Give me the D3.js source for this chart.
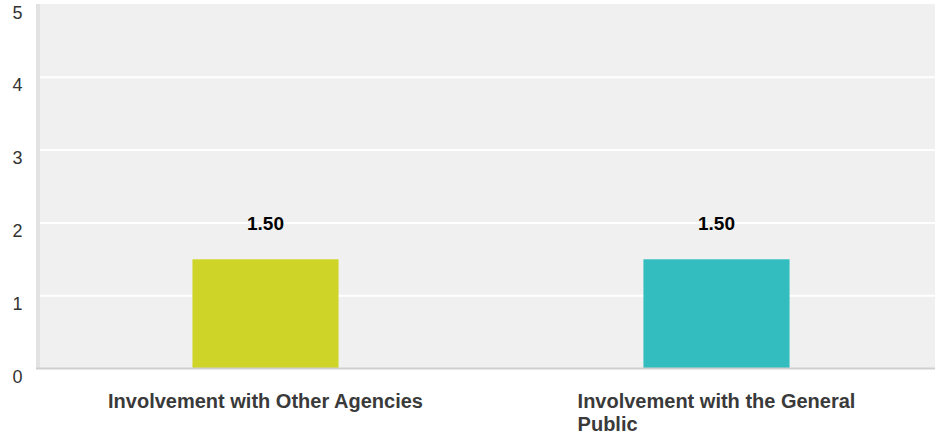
<!DOCTYPE html>
<html>
<head>
<meta charset="utf-8">
<script src="https://cdn.jsdelivr.net/npm/d3@7"></script>
<style>
  html, body { margin: 0; padding: 0; background: #fff; }
  svg { display: block; font-family: "Liberation Sans", Arial, Helvetica, sans-serif; }
</style>
</head>
<body>
<svg id="chart" width="935" height="439"></svg>
<script>
// Average ratings per category
const categories = ["Involvement with Other Agencies", "Involvement with the General Public"];
const values = [1.5, 1.5];
const barColors = ["#cfd428", "#33bdbf"];
const yTicks = [0, 1, 2, 3, 4, 5];

const svg = d3.select("#chart");
const W = 935, H = 439;
const plotLeft = 40, plotRight = 942, plotTop = 4.5, plotBottom = 368.5;

const x = d3.scaleBand().domain(categories).range([plotLeft, plotRight]).paddingInner(0.676).paddingOuter(0.338);
const y = d3.scaleLinear().domain([0, 5]).range([plotBottom, plotTop]);

// plot background
svg.append("rect")
  .attr("x", plotLeft).attr("y", 4)
  .attr("width", W - plotLeft).attr("height", plotBottom - 4)
  .attr("fill", "#f0f0f0");

// left axis strip
svg.append("rect")
  .attr("x", 36).attr("y", 4)
  .attr("width", 4).attr("height", plotBottom - 4)
  .attr("fill", "#e2e2e2");

// horizontal gridlines
svg.append("g").selectAll("line")
  .data(yTicks.filter(d => d > 0 && d < 5))
  .join("line")
  .attr("x1", plotLeft).attr("x2", W)
  .attr("y1", d => y(d)).attr("y2", d => y(d))
  .attr("stroke", "#ffffff").attr("stroke-width", 2);

// y tick labels
svg.append("g").selectAll("text")
  .data(yTicks)
  .join("text")
  .attr("x", 12.5)
  .attr("y", d => y(d) + 14)
  .attr("fill", "#333")
  .attr("font-size", 18)
  .text(d => d);

// bars
svg.append("g").selectAll("rect")
  .data(values)
  .join("rect")
  .attr("x", (d, i) => x(categories[i]))
  .attr("width", x.bandwidth())
  .attr("y", d => y(d))
  .attr("height", d => y(0) - y(d))
  .attr("fill", (d, i) => barColors[i]);

// baseline
svg.append("line")
  .attr("x1", 36).attr("x2", W)
  .attr("y1", plotBottom).attr("y2", plotBottom)
  .attr("stroke", "#cfcfcf").attr("stroke-width", 2);

// value labels
svg.append("g").selectAll("text")
  .data(values)
  .join("text")
  .attr("x", (d, i) => x(categories[i]) + x.bandwidth() / 2)
  .attr("y", d => y(d) - 29)
  .attr("text-anchor", "middle")
  .attr("font-size", 19)
  .attr("font-weight", "bold")
  .attr("fill", "#000")
  .text(d => d.toFixed(2));

// category labels, wrapped and left-aligned within a centred block
const maxLabelWidth = 320;
categories.forEach((cat, i) => {
  const cx = x(cat) + x.bandwidth() / 2;
  const t = svg.append("text")
    .attr("font-size", 20)
    .attr("font-weight", "bold")
    .attr("fill", "#3a3a3a");
  const words = cat.split(" ");
  const lines = [];
  let line = [];
  const probe = t.append("tspan");
  words.forEach(w => {
    const test = line.concat(w).join(" ");
    probe.text(test);
    if (probe.node().getComputedTextLength() > maxLabelWidth && line.length) {
      lines.push(line.join(" "));
      line = [w];
    } else {
      line.push(w);
    }
  });
  lines.push(line.join(" "));
  probe.remove();
  const spans = lines.map((l, k) => t.append("tspan").attr("y", 408 + k * 23).text(l));
  const widths = spans.map(s => s.node().getComputedTextLength());
  const blockLeft = cx - d3.max(widths) / 2;
  spans.forEach(s => s.attr("x", blockLeft));
});
</script>
</body>
</html>
